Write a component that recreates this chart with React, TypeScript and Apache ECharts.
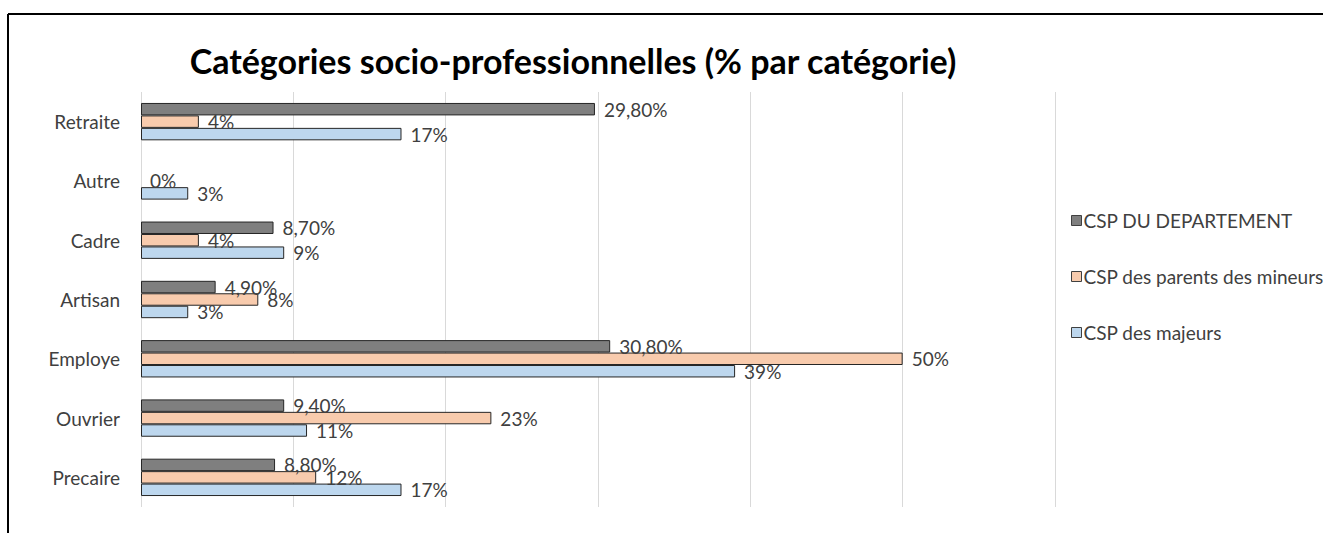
import React, { useEffect, useRef } from "react";
import * as echarts from "echarts";

const categories = ["Retraite", "Autre", "Cadre", "Artisan", "Employe", "Ouvrier", "Precaire"];
const seriesNames = ["CSP DU DEPARTEMENT", "CSP des parents des mineurs", "CSP des majeurs"];
const deptValues = [29.8, null, 8.7, 4.9, 30.8, 9.4, 8.8];
const parentsValues = [3.8, 0, 3.8, 7.7, 50, 23, 11.5];
const majeursValues = [17.1, 3.1, 9.4, 3.1, 39, 10.9, 17.1];
const colors = ["#7f7f7f", "#f8cbad", "#bdd7ee"];
const titleText = "Catégories socio-professionnelles (% par catégorie)";

const FONT = "Lato";
const TEXT_COLOR = "#404040";

export default function App() {
  const ref = useRef<HTMLDivElement>(null);
  useEffect(() => {
    document.body.style.margin = "0";
    if (!ref.current) return;
    const chart = echarts.init(ref.current, undefined, { renderer: "svg" });
    const fmtDept = (p: any) => (p.value == null ? "" : Number(p.value).toFixed(2).replace(".", ",") + "%");
    const fmtInt = (p: any) => (p.value == null ? "" : Math.round(Number(p.value)) + "%");
    const mk = (name: string, data: (number | null)[], color: string, fmt: any) => ({
      type: "bar",
      name,
      data: data.map((v) => (v === 0 ? { value: v, itemStyle: { borderWidth: 0 } } : v)),
      barGap: "0%",
      barCategoryGap: "37%",
      itemStyle: { color, borderColor: "#262626", borderWidth: 1 },
      label: {
        show: true,
        position: "right",
        distance: 9,
        formatter: fmt,
        color: TEXT_COLOR,
        fontFamily: FONT,
        fontSize: 19,
      },
    });
    chart.setOption({
      animation: false,
      textStyle: { fontFamily: FONT },
      title: {
        text: titleText,
        left: 568,
        top: 38,
        textAlign: "center",
        textStyle: { fontFamily: FONT, fontWeight: "bold", fontSize: 34, color: "#000" },
      },
      legend: {
        orient: "vertical",
        left: 1066,
        top: 206,
        itemGap: 37,
        itemWidth: 10,
        itemHeight: 10,
        icon: "rect",
        textStyle: { fontFamily: FONT, fontSize: 19, color: TEXT_COLOR, padding: [0, 0, 0, -3] },
        data: seriesNames.map((n) => ({ name: n, itemStyle: { borderColor: "#404040", borderWidth: 1 } })),
      },
      grid: { left: 141, right: 268, top: 92, bottom: 26, containLabel: false },
      xAxis: {
        type: "value",
        min: 0,
        max: 60,
        interval: 10,
        axisLabel: { show: false },
        axisLine: { show: false },
        axisTick: { show: false },
        splitLine: { show: true, lineStyle: { color: "#d9d9d9", width: 1 } },
      },
      yAxis: {
        type: "category",
        inverse: true,
        data: categories,
        axisLine: { show: false },
        axisTick: { show: false },
        axisLabel: { margin: 21, color: TEXT_COLOR, fontFamily: FONT, fontSize: 19 },
      },
      graphic: [
        { type: "line", shape: { x1: 8, y1: 14, x2: 1323, y2: 14 }, style: { stroke: "#000", lineWidth: 2 } },
        { type: "line", shape: { x1: 8, y1: 14, x2: 8, y2: 533 }, style: { stroke: "#000", lineWidth: 2 } },
      ],
      series: [
        mk(seriesNames[0], deptValues, colors[0], fmtDept),
        mk(seriesNames[1], parentsValues, colors[1], fmtInt),
        mk(seriesNames[2], majeursValues, colors[2], fmtInt),
      ],
    });
    return () => chart.dispose();
  }, []);
  return <div ref={ref} style={{ width: 1323, height: 533 }} />;
}
